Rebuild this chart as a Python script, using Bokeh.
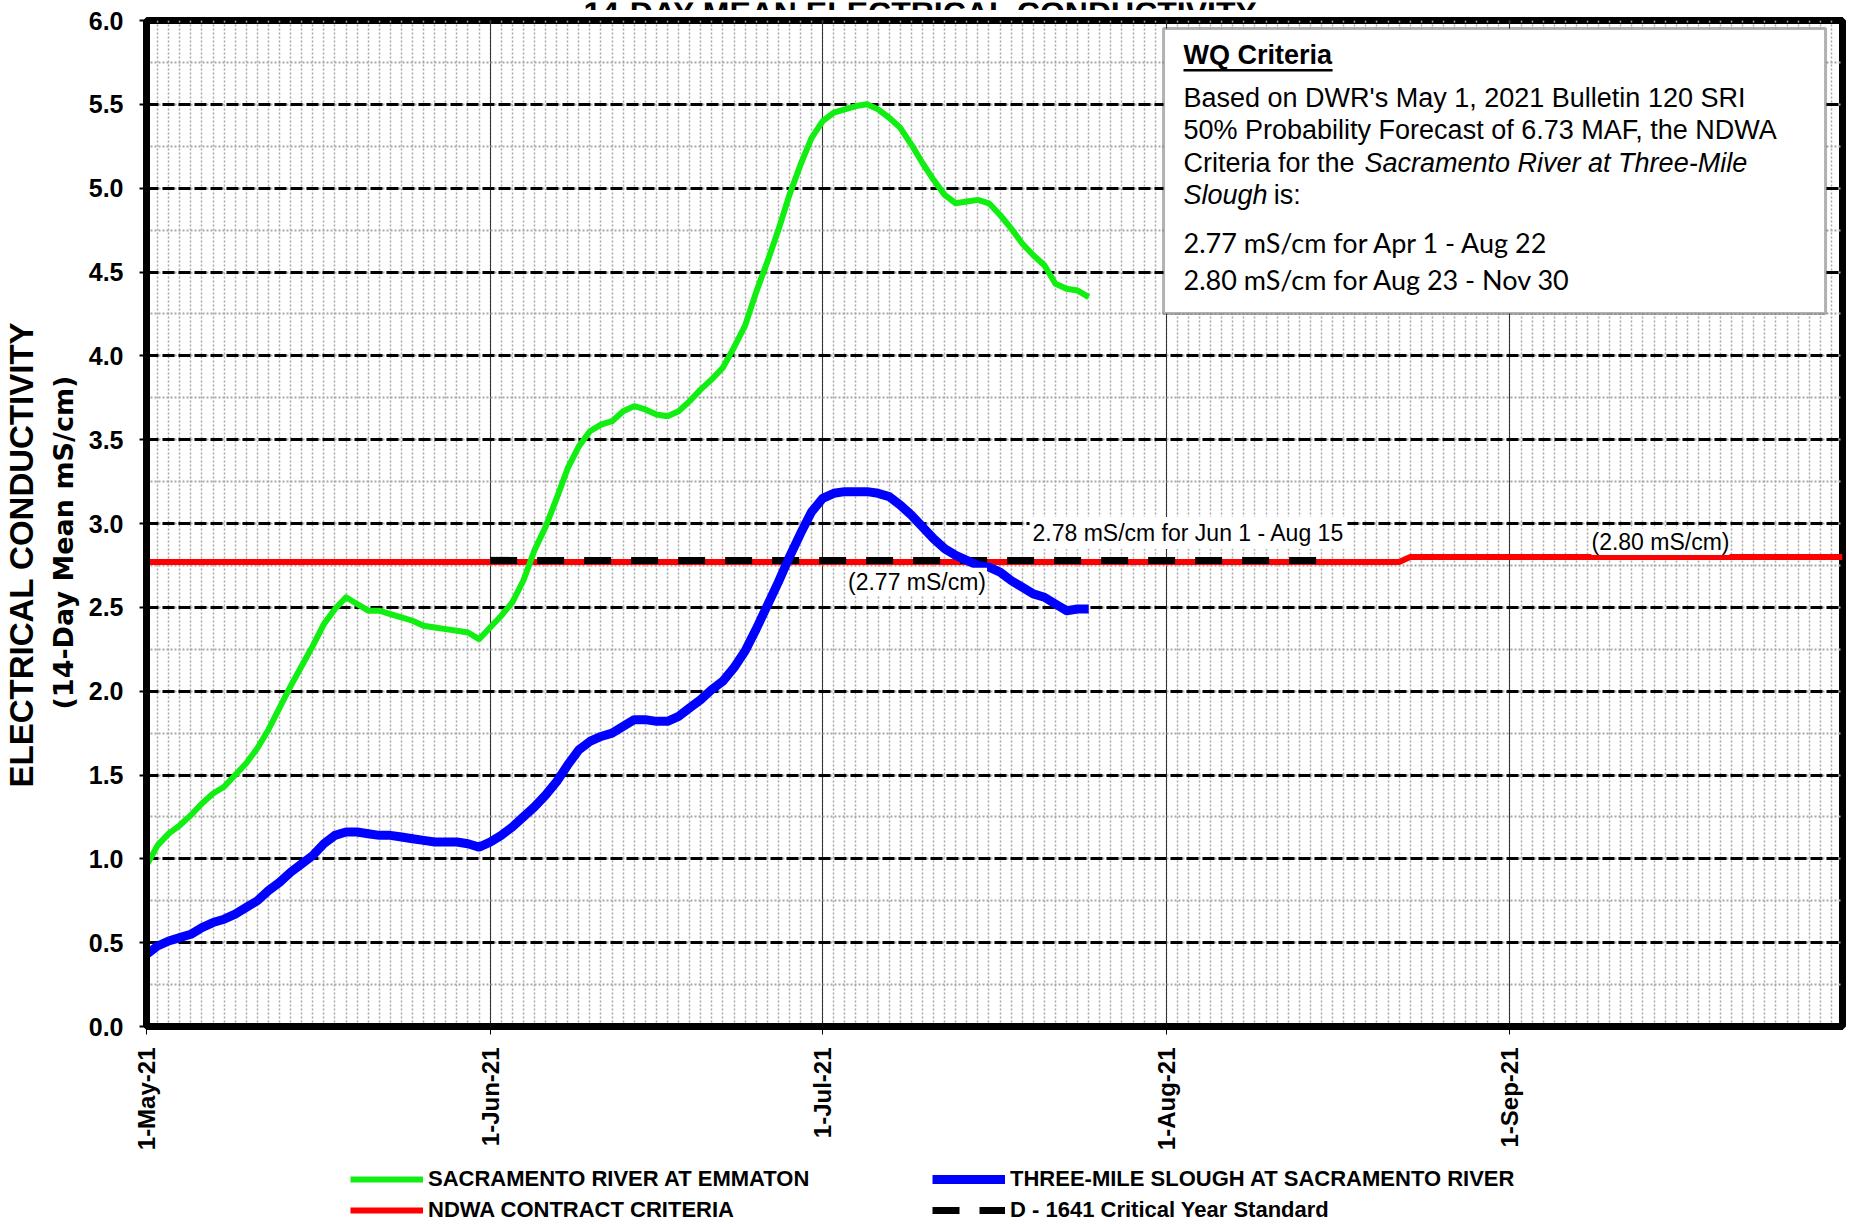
import math
import pandas as pd
from bokeh.plotting import figure
from bokeh.layouts import column
from bokeh.models import (Range1d, FixedTicker, SingleIntervalTicker, Label, Title,
                          BoxAnnotation, Legend, LegendItem, PrintfTickFormatter)
from bokeh.embed import file_html
from bokeh.resources import INLINE

# ---------------- data ----------------
start_date = "2021-05-01"
end_date = "2021-10-01"

# Sacramento River at Emmaton, 14-day mean EC (mS/cm), daily from May 1
emmaton = [0.96, 1.08, 1.15, 1.20, 1.26, 1.33, 1.39, 1.43, 1.50, 1.57,
           1.66, 1.77, 1.90, 2.03, 2.15, 2.27, 2.40, 2.49, 2.56, 2.52,
           2.48, 2.48, 2.46, 2.44, 2.42, 2.39, 2.38, 2.37, 2.36, 2.35,
           2.31, 2.38, 2.45, 2.53, 2.66, 2.84, 2.98, 3.15, 3.33, 3.46,
           3.55, 3.59, 3.61, 3.67, 3.70, 3.68, 3.65, 3.64, 3.67, 3.73,
           3.80, 3.86, 3.93, 4.05, 4.18, 4.38, 4.56, 4.75, 4.96, 5.14,
           5.30, 5.40, 5.45, 5.47, 5.49, 5.50, 5.47, 5.42, 5.36, 5.26,
           5.15, 5.05, 4.96, 4.91, 4.92, 4.93, 4.91, 4.84, 4.76, 4.67,
           4.60, 4.54, 4.43, 4.40, 4.39, 4.35]

# Three-Mile Slough at Sacramento River
three_mile = [0.43, 0.48, 0.51, 0.53, 0.55, 0.59, 0.62, 0.64, 0.67, 0.71,
              0.75, 0.81, 0.86, 0.92, 0.97, 1.02, 1.09, 1.14, 1.16, 1.16,
              1.15, 1.14, 1.14, 1.13, 1.12, 1.11, 1.10, 1.10, 1.10, 1.09,
              1.07, 1.10, 1.14, 1.19, 1.25, 1.31, 1.38, 1.46, 1.56, 1.65,
              1.70, 1.73, 1.75, 1.79, 1.83, 1.83, 1.82, 1.82, 1.85, 1.90,
              1.95, 2.01, 2.06, 2.14, 2.24, 2.37, 2.51, 2.65, 2.80, 2.94,
              3.07, 3.15, 3.18, 3.19, 3.19, 3.19, 3.18, 3.16, 3.11, 3.05,
              2.98, 2.91, 2.85, 2.81, 2.78, 2.75, 2.74, 2.71, 2.66, 2.62,
              2.58, 2.56, 2.52, 2.48, 2.49, 2.49]

ndwa_dates = ["2021-05-01", "2021-08-22", "2021-08-23", "2021-10-01"]
ndwa_vals = [2.77, 2.77, 2.80, 2.80]

d1641_dates = ["2021-06-01", "2021-08-15"]
d1641_vals = [2.78, 2.78]

month_ticks = ["2021-05-01", "2021-06-01", "2021-07-01", "2021-08-01", "2021-09-01"]
month_labels = ["1-May-21", "1-Jun-21", "1-Jul-21", "1-Aug-21", "1-Sep-21"]

series_names = ["SACRAMENTO RIVER AT EMMATON", "THREE-MILE SLOUGH AT SACRAMENTO RIVER",
                "NDWA CONTRACT CRITERIA", "D - 1641 Critical Year Standard"]

# ---------------- styles ----------------
GREEN = dict(line_color="#11ee11", line_width=6, line_join="round")
BLUE = dict(line_color="#0000ff", line_width=9, line_join="round")
RED = dict(line_color="#ff0000", line_width=6)
DASH = dict(line_color="black", line_width=7, line_dash="27 20")

# ---------------- helpers ----------------
def ms(s):
    return pd.Timestamp(s).value / 1e6

START = pd.Timestamp(start_date)

def at(days):
    return (START + pd.Timedelta(days=days)).value / 1e6

dates = pd.date_range(start_date, periods=len(emmaton), freq="D")
day_ticks = [d.value / 1e6 for d in pd.date_range(start_date, end_date, freq="D")]
month_ms = [ms(m) for m in month_ticks]

FONT = "Liberation Sans"
TOP_H = 10
LEG_H = 71
MAIN_H = 1224 - TOP_H - LEG_H

# ---------------- title strip (title is cut off at the top, as in the reference) ----------------
tp = figure(width=1849, height=TOP_H, x_range=Range1d(ms(start_date), ms(end_date)),
            y_range=Range1d(0, 1), output_backend="svg", toolbar_location=None,
            min_border=0, x_axis_location=None, y_axis_location=None)
tp.grid.visible = False
tp.outline_line_color = None
tp.add_layout(Label(x=at(69.85), y=0, text="14-DAY MEAN ELECTRICAL CONDUCTIVITY",
                    text_font=FONT, text_font_style="bold", text_font_size="32px",
                    text_align="center", text_baseline="alphabetic", text_color="black"))

# ---------------- main chart ----------------
p = figure(width=1849, height=MAIN_H, x_axis_type="datetime",
           x_range=Range1d(ms(start_date), ms(end_date)), y_range=Range1d(0, 6),
           output_backend="svg", toolbar_location=None,
           min_border_left=146, min_border_right=7, min_border_top=20 - TOP_H,
           min_border_bottom=1224 - LEG_H - 1029)
p.background_fill_color = "white"
p.border_fill_color = "white"
p.outline_line_color = "black"
p.outline_line_width = 7

# y axis
yax = p.yaxis[0]
yax.ticker = SingleIntervalTicker(interval=0.5, num_minor_ticks=2)
yax.formatter = PrintfTickFormatter(format="%.1f")
yax.major_label_text_font = FONT
yax.major_label_text_font_style = "bold"
yax.major_label_text_font_size = "25px"
yax.major_label_text_color = "black"
yax.major_tick_out = 7
yax.major_tick_in = 0
yax.major_tick_line_width = 2
yax.minor_tick_line_color = None
yax.axis_line_width = 7
yax.major_label_standoff = 16

p.add_layout(Title(text="(14-Day Mean mS/cm)", align="left", vertical_align="middle",
                   offset=317, standoff=12, text_font="DejaVu Sans", text_font_style="bold",
                   text_font_size="27px", text_color="black"), "left")
p.add_layout(Title(text="ELECTRICAL CONDUCTIVITY", align="left", vertical_align="middle",
                   offset=239, standoff=0, text_font=FONT, text_font_style="bold",
                   text_font_size="33px", text_color="black"), "left")

# x axis
xax = p.xaxis[0]
xax.ticker = FixedTicker(ticks=month_ms)
xax.major_label_overrides = {m: l for m, l in zip(month_ms, month_labels)}
xax.major_label_orientation = math.pi / 2
xax.major_label_text_font = FONT
xax.major_label_text_font_style = "bold"
xax.major_label_text_font_size = "24px"
xax.major_label_text_color = "black"
xax.major_tick_out = 8
xax.major_tick_in = 0
xax.major_tick_line_width = 1
xax.minor_tick_line_color = None
xax.axis_line_width = 7
xax.major_label_standoff = 13

# grids
p.xgrid.ticker = FixedTicker(ticks=month_ms, minor_ticks=day_ticks)
p.xgrid.grid_line_color = "#333333"
p.xgrid.grid_line_width = 1
p.xgrid.minor_grid_line_color = "#a8a8a8"
p.xgrid.minor_grid_line_width = 1.5
p.xgrid.minor_grid_line_dash = "2 2"
p.ygrid.grid_line_color = "black"
p.ygrid.grid_line_width = 3
p.ygrid.grid_line_dash = "12 4"
p.ygrid.minor_grid_line_color = "#a8a8a8"
p.ygrid.minor_grid_line_width = 2
p.ygrid.minor_grid_line_dash = "2 2"

# lines
p.line(pd.to_datetime(ndwa_dates), ndwa_vals, **RED)
p.line(pd.to_datetime(d1641_dates), d1641_vals, **DASH)
p.line(dates, emmaton, **GREEN)
p.line(dates, three_mile, **BLUE)

# in-plot annotations
def lab(x, y, text, size="23px", style="normal", align="center", font=FONT, bg=None, pad=2):
    kw = dict(x=x, y=y, text=text, text_font=font, text_font_size=size,
              text_font_style=style, text_align=align, text_baseline="middle",
              text_color="black")
    if bg:
        kw.update(background_fill_color=bg, background_fill_alpha=1.0, padding=pad)
    p.add_layout(Label(**kw))

lab(at(94.0), 2.943, "2.78 mS/cm for Jun 1 - Aug 15", bg="white", pad=3)
lab(at(69.51), 2.652, "(2.77 mS/cm)", bg="white", pad=1)
lab(at(136.58), 2.89, "(2.80 mS/cm)", bg="white", pad=0)

# WQ criteria box
p.add_layout(BoxAnnotation(left=at(91.75), right=at(151.47), top=5.952, bottom=4.252,
                           fill_color="white", fill_alpha=1.0, line_color="black",
                           line_width=3, level="annotation"))
p.add_layout(BoxAnnotation(left=at(93.55), right=at(107.0), top=5.710, bottom=5.696,
                           fill_color="black", fill_alpha=1.0, line_color=None,
                           level="annotation"))
lx = at(93.55)
lab(lx, 5.792, "WQ Criteria", size="27px", style="bold", align="left")
lab(lx, 5.536, "Based on DWR's May 1, 2021 Bulletin 120 SRI", size="27px", align="left")
lab(lx, 5.346, "50% Probability Forecast of 6.73 MAF, the NDWA", size="27px", align="left")
lab(lx, 5.150, "Criteria for the", size="27px", align="left")
lab(at(109.88), 5.150, "Sacramento River at Three-Mile", size="27px", style="italic", align="left")
lab(lx, 4.959, "Slough", size="27px", style="italic", align="left")
lab(at(101.7), 4.959, "is:", size="27px", align="left")
lab(lx, 4.674, "2.77 mS/cm for Apr 1 - Aug 22", size="27px", align="left", font="Lato")
lab(lx, 4.454, "2.80 mS/cm for Aug 23 - Nov 30", size="27px", align="left", font="Lato")

# ---------------- legend strip below the chart ----------------
lg = figure(width=1849, height=LEG_H, x_range=Range1d(0, 1), y_range=Range1d(0, 1),
            output_backend="svg", toolbar_location=None, min_border=0,
            x_axis_location=None, y_axis_location=None)
lg.grid.visible = False
lg.outline_line_color = None
lg.background_fill_color = "white"
lg.border_fill_color = "white"
nan = float("nan")
l_em = lg.line([nan], [nan], **GREEN)
l_tm = lg.line([nan], [nan], **BLUE)
l_ndwa = lg.line([nan], [nan], **RED)
l_d = lg.line([nan], [nan], **DASH)

legend = Legend(items=[LegendItem(label=series_names[0], renderers=[l_em]),
                       LegendItem(label=series_names[1], renderers=[l_tm]),
                       LegendItem(label=series_names[2], renderers=[l_ndwa]),
                       LegendItem(label=series_names[3], renderers=[l_d])],
                orientation="horizontal", ncols=2, location=(204, 1),
                glyph_width=73, glyph_height=22, label_height=22, label_width=499,
                label_standoff=5, spacing=5, padding=0, margin=0,
                border_line_color=None, background_fill_alpha=0,
                label_text_font=FONT, label_text_font_style="bold",
                label_text_font_size="22px", label_text_color="black")
lg.add_layout(legend)

open("out.html", "w").write(file_html(column(tp, p, lg), INLINE))
